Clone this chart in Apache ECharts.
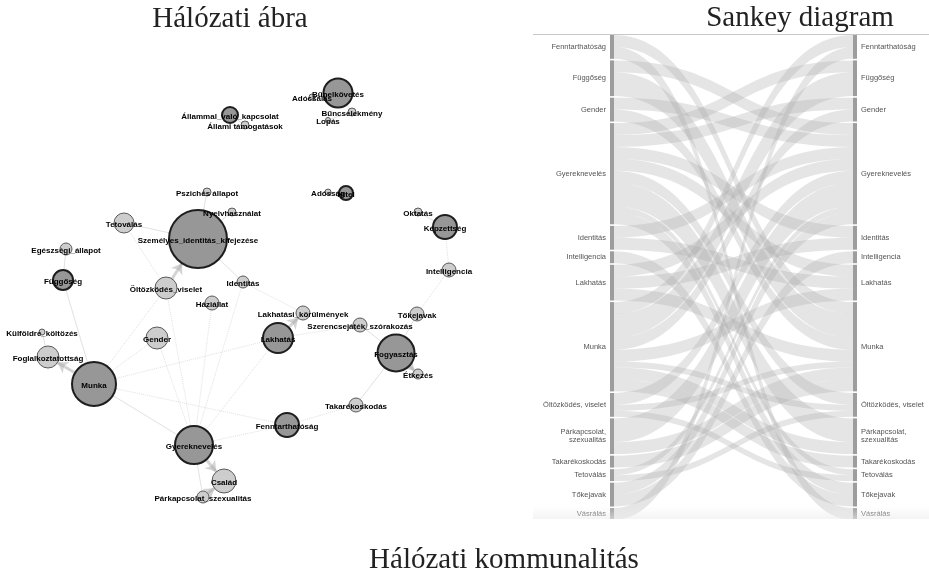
<!DOCTYPE html>
<html><head><meta charset="utf-8">
<script src="https://cdn.jsdelivr.net/npm/echarts/dist/echarts.min.js"></script>
<style>html,body{margin:0;padding:0;background:#fff}#c{width:929px;height:575px}</style>
</head><body><div id="c"></div>
<script>
// ---------- Network graph data ----------
const graphNodeNames = ['Bűnelkövetés','Adócsalás','Bűncselekmény','Lopás','Állammal_való_kapcsolat','Állami támogatások','Pszichés állapot','Nyelvhasználat','Adósság','Hitel','Oktatás','Képzettség','Tetoválás','Személyes_identitás_kifejezése','Egészségi_állapot','Függőség','Öltözködés_viselet','Identitás','Háziállat','Intelligencia','Külföldre_költözés','Gender','Foglalkoztatottság','Munka','Lakhatási_körülmények','Tőkejavak','Szerencsejáték_szórakozás','Lakhatás','Fogyasztás','Étkezés','Takarékoskodás','Fenntarthatóság','Gyereknevelés','Család','Párkapcsolat_szexualitás'];
const graphNodeX = [338,312,352,328,230,245,207,232,328,346,418,445,124,198,66,63,166,243,212,449,42,157,48,94,303,417,360,278,396,418,356,287,194,224,203];
const graphNodeY = [93,97,112,120,115,125,192,212,192,193,212,227,223,239,249,280,288,282,303,270,332,338,357,384,313,314,325,338,353,374,405,425,445,481,497];
const graphNodeWeight = [29,6,8,5,16,8,8,8,6,14,8,24,20,58,12,20,22,12,14,14,6,22,22,44,14,14,14,30,37,10,14,24,38,24,12];
const graphNodeGroup = [1,0,0,0,1,0,0,0,0,1,0,1,0,1,0,1,0,0,0,0,0,0,0,1,0,0,0,1,1,0,0,1,1,0,0];
const graphEdges = [
  ['Bűnelkövetés','Adócsalás','solid'],
  ['Bűnelkövetés','Bűncselekmény','solid'],
  ['Bűncselekmény','Lopás','solid'],
  ['Állammal_való_kapcsolat','Állami támogatások','solid'],
  ['Hitel','Adósság','solid'],
  ['Képzettség','Oktatás','solid'],
  ['Képzettség','Intelligencia','dotted'],
  ['Intelligencia','Tőkejavak','dotted'],
  ['Fogyasztás','Tőkejavak','solid'],
  ['Fogyasztás','Étkezés','arrow'],
  ['Szerencsejáték_szórakozás','Fogyasztás','solid'],
  ['Fogyasztás','Takarékoskodás','solid'],
  ['Takarékoskodás','Fenntarthatóság','dotted'],
  ['Lakhatás','Lakhatási_körülmények','arrow'],
  ['Identitás','Lakhatási_körülmények','dotted'],
  ['Lakhatás','Szerencsejáték_szórakozás','dotted'],
  ['Személyes_identitás_kifejezése','Tetoválás','solid'],
  ['Személyes_identitás_kifejezése','Pszichés állapot','solid'],
  ['Személyes_identitás_kifejezése','Nyelvhasználat','solid'],
  ['Identitás','Személyes_identitás_kifejezése','solid'],
  ['Öltözködés_viselet','Személyes_identitás_kifejezése','arrow'],
  ['Függőség','Egészségi_állapot','solid'],
  ['Függőség','Munka','solid'],
  ['Munka','Foglalkoztatottság','arrow'],
  ['Foglalkoztatottság','Külföldre_költözés','solid'],
  ['Munka','Öltözködés_viselet','dotted'],
  ['Munka','Gender','dotted'],
  ['Munka','Gyereknevelés','solid'],
  ['Munka','Fenntarthatóság','dotted'],
  ['Munka','Lakhatás','dotted'],
  ['Gyereknevelés','Gender','dotted'],
  ['Gyereknevelés','Háziállat','dotted'],
  ['Gyereknevelés','Identitás','dotted'],
  ['Gyereknevelés','Lakhatás','dotted'],
  ['Gyereknevelés','Fenntarthatóság','dotted'],
  ['Gyereknevelés','Öltözködés_viselet','dotted'],
  ['Gyereknevelés','Család','arrow'],
  ['Gyereknevelés','Párkapcsolat_szexualitás','solid'],
  ['Párkapcsolat_szexualitás','Család','arrow'],
  ['Tetoválás','Öltözködés_viselet','dotted']
];

// ---------- Sankey data ----------
const sankeyCategories = ['Fenntarthatóság','Függőség','Gender','Gyereknevelés','Identitás','Intelligencia','Lakhatás','Munka','Öltözködés, viselet','Párkapcsolat, szexualitás','Takarékoskodás','Tetoválás','Tőkejavak','Vásrálás'];
const sankeyPairs = [
  ['Fenntarthatóság','Munka',1],
  ['Fenntarthatóság','Vásrálás',1],
  ['Függőség','Munka',2],
  ['Függőség','Gyereknevelés',1],
  ['Gender','Munka',1],
  ['Gender','Gyereknevelés',1],
  ['Identitás','Gyereknevelés',1],
  ['Identitás','Lakhatás',1],
  ['Intelligencia','Tőkejavak',1],
  ['Lakhatás','Gyereknevelés',1],
  ['Lakhatás','Munka',1],
  ['Öltözködés, viselet','Munka',0.5],
  ['Öltözködés, viselet','Gyereknevelés',1],
  ['Öltözködés, viselet','Tetoválás',0.5],
  ['Párkapcsolat, szexualitás','Gyereknevelés',2],
  ['Párkapcsolat, szexualitás','Munka',1],
  ['Takarékoskodás','Munka',1],
  ['Tetoválás','Gyereknevelés',0.5],
  ['Tőkejavak','Gyereknevelés',1]
];

// ---------- Titles ----------
const titleTexts = ['Hálózati ábra','Sankey diagram','Hálózati kommunalitás'];

// ---------- Build ----------
const edgeStyles = {
  solid: {lineStyle:{color:'#c4c4c4', width:1, type:'solid'}},
  dotted: {lineStyle:{color:'#c2c2c2', width:1, type:'dotted'}},
  arrow: {lineStyle:{color:'#a9a9a9', width:3, type:'solid'}, symbol:['none','arrow'], symbolSize:[0,10]}
};
const gNodes = graphNodeNames.map((n,i)=>({
  name:n,
  value:[graphNodeX[i], graphNodeY[i]],
  symbolSize: graphNodeWeight[i],
  itemStyle: graphNodeGroup[i] ? {color:'#979797', borderColor:'#1e1e1e', borderWidth:2}
                                : {color:'#cdcdcd', borderColor:'#5a5a5a', borderWidth:1}
}));
const gLinks = graphEdges.map(e=>Object.assign({source:e[0], target:e[1]}, JSON.parse(JSON.stringify(edgeStyles[e[2]]))));

const R = ' ';
const sNodes = sankeyCategories.map(c=>({name:c, label:{position:'left'}}))
  .concat(sankeyCategories.map(c=>({name:c+R, label:{position:'right'}})));
const sLinks = [];
sankeyPairs.forEach(p=>{
  sLinks.push({source:p[0], target:p[1]+R, value:p[2]});
  if (p[0]!==p[1]) sLinks.push({source:p[1], target:p[0]+R, value:p[2]});
});

const chart = echarts.init(document.getElementById('c'), null, {renderer:'canvas'});
const titleStyle = {fontFamily:'Liberation Serif', fontSize:29, fontWeight:'normal', color:'#222'};
chart.setOption({
  backgroundColor:'#fff',
  animation:false,
  title:[
    {text:titleTexts[0], left:230, top:5, textAlign:'center', padding:0, textStyle:titleStyle},
    {text:titleTexts[1], left:800, top:4, textAlign:'center', padding:0, textStyle:titleStyle},
    {text:titleTexts[2], left:504, top:546, textAlign:'center', padding:0, textStyle:titleStyle}
  ],
  grid:{left:0, top:0, right:0, bottom:0, containLabel:false},
  xAxis:{type:'value', min:0, max:929, show:false},
  yAxis:{type:'value', min:0, max:575, inverse:true, show:false},
  series:[
    {
      type:'graph',
      coordinateSystem:'cartesian2d',
      layout:'none',
      data:gNodes,
      links:gLinks,
      symbol:'circle',
      edgeSymbol:['none','none'],
      emphasis:{disabled:true},
      label:{show:true, position:'inside', offset:[0,2], color:'#000', fontSize:8, fontWeight:'bold', fontFamily:'Liberation Sans'},
      z:3
    },
    {
      type:'sankey',
      left:610, top:35, right:72, bottom:55,
      nodeWidth:4, nodeGap:1.6,
      layoutIterations:0,
      draggable:false,
      emphasis:{disabled:true},
      data:sNodes,
      links:sLinks,
      itemStyle:{color:'#9d9d9d', borderWidth:0},
      lineStyle:{color:'#a8a8a8', opacity:0.3, curveness:0.5},
      label:{show:true, color:'#555', fontSize:7.5, fontFamily:'Liberation Sans', distance:4,
        formatter:p=>p.name.trim().replace('Párkapcsolat, ','Párkapcsolat,\n')}
    }
  ],
  graphic:[
    {type:'line', z:100, shape:{x1:533, y1:34.5, x2:929, y2:34.5}, style:{stroke:'#c8c8c8', lineWidth:1}},
    {type:'rect', z:100, shape:{x:533, y:506, width:396, height:13},
      style:{fill:new echarts.graphic.LinearGradient(0,0,0,1,[{offset:0,color:'rgba(238,238,238,0)'},{offset:1,color:'rgba(236,236,236,0.6)'}])}},
    {type:'rect', z:100, shape:{x:533, y:519, width:396, height:24}, style:{fill:'#fff'}}
  ]
});
</script></body></html>
